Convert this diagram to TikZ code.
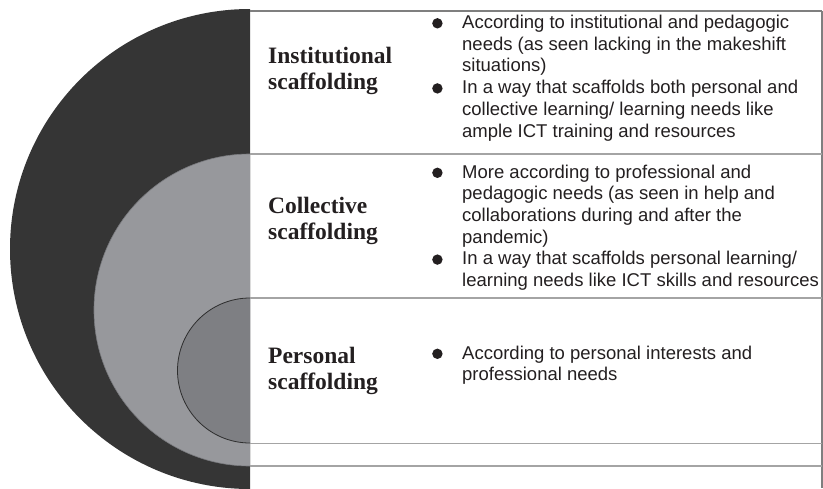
\documentclass[tikz,border=0pt]{standalone}
\usepackage{fontspec}
\setmainfont{Liberation Serif}
\newfontfamily\arialfont{Liberation Sans}
\definecolor{outerc}{HTML}{353535}
\definecolor{midc}{HTML}{97989C}
\definecolor{midedge}{HTML}{7A7B7F}
\definecolor{innerc}{HTML}{7E7F83}
\definecolor{inneredge}{HTML}{2E2E2E}
\definecolor{textc}{HTML}{231F20}
\definecolor{topc}{HTML}{7F7F7F}
\definecolor{linec}{HTML}{A4A4A4}
\newcommand\dotmark{\tikz[baseline=-5.2pt]\fill[textc] (0,0) circle (5.2pt);}
\begin{document}
\begin{tikzpicture}[x=1pt,y=-1pt,
    lbl/.style={anchor=base west,inner sep=0pt,text=textc,
      font=\bfseries\fontsize{23.5}{26}\selectfont},
    desc/.style={anchor=base west,inner sep=0pt,text=textc,
      font=\arialfont\fontsize{18.5}{21.7}\selectfont},
    rowline/.style={draw=linec,line width=1.3pt}]
  \useasboundingbox (0,0) rectangle (823,488);
  % nested half discs
  \begin{scope}
    \clip (0,0) rectangle (250,488);
    \fill[outerc] (250,249) circle (240);
    \filldraw[fill=midc,draw=midedge,line width=0.6pt] (250,310) circle (156);
    \filldraw[fill=innerc,draw=inneredge,line width=0.8pt] (250,370.5) circle (72.5);
  \end{scope}
  % table rules
  \draw[draw=topc,line width=1.5pt] (250,11) -- (822,11);
  \draw[draw=topc,line width=1.2pt] (822,11) -- (822,488);
  \foreach \y in {154,298,443.5,466}
    \draw[rowline] (250,\y) -- (822,\y);
  % labels
  \node[lbl] (inst) at (268,63) {\begin{tabular}[t]{@{}l@{}}Institutional\\scaffolding\end{tabular}};
  \node[lbl] (coll) at (268,213) {\begin{tabular}[t]{@{}l@{}}Collective\\scaffolding\end{tabular}};
  \node[lbl] (pers) at (268,363) {\begin{tabular}[t]{@{}l@{}}Personal\\scaffolding\end{tabular}};
  % bullet texts
  \node[desc] (instdesc) at (432,28.5) {\begin{tabular}[t]{@{}c@{\hspace{19.6pt}}l@{}}
    \dotmark & According to institutional and pedagogic\\
             & needs (as seen lacking in the makeshift\\
             & situations)\\
    \dotmark & In a way that scaffolds both personal and\\
             & collective learning/ learning needs like\\
             & ample ICT training and resources
  \end{tabular}};
  \node[desc] (colldesc) at (432,178) {\begin{tabular}[t]{@{}c@{\hspace{19.6pt}}l@{}}
    \dotmark & More according to professional and\\
             & pedagogic needs (as seen in help and\\
             & collaborations during and after the\\
             & pandemic)\\
    \dotmark & In a way that scaffolds personal learning/\\
             & learning needs like ICT skills and resources
  \end{tabular}};
  \node[desc] (persdesc) at (432,359) {\begin{tabular}[t]{@{}c@{\hspace{19.6pt}}l@{}}
    \dotmark & According to personal interests and\\
             & professional needs
  \end{tabular}};
\end{tikzpicture}
\end{document}
